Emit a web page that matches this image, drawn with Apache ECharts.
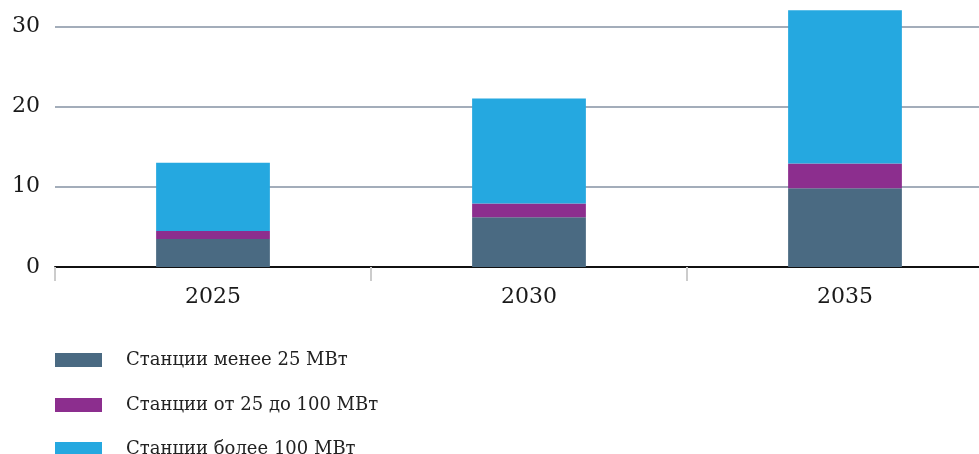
<!DOCTYPE html>
<html>
<head>
<meta charset="utf-8">
<script src="https://cdn.jsdelivr.net/npm/echarts@6/dist/echarts.min.js"></script>
<style>
  html, body { margin: 0; padding: 0; background: #ffffff; overflow: hidden; width: 979px; height: 454px; }
  #chart { position: absolute; left: 0; top: -54px; width: 1010px; height: 508px; }
</style>
</head>
<body>
<div id="chart"></div>
<script>
// Installed capacity by station size, stacked per year
const years = ['2025', '2030', '2035'];
const seriesNames = ['Станции менее 25 МВт', 'Станции от 25 до 100 МВт', 'Станции более 100 МВт'];
const small = [3.5, 6.2, 9.8];
const medium = [1.0, 1.7, 3.1];
const large = [8.5, 13.1, 19.1];
const colors = ['#4a6a82', '#8c2e8e', '#25a8e0'];

const serif = '"DejaVu Serif", "Liberation Serif", serif';

// The canvas is offset upward so the plot's upper part runs off the page
const offsetY = 54;

const chart = echarts.init(document.getElementById('chart'), null, { renderer: 'canvas' });

const makeSeries = (name, data, color) => ({
  name: name,
  type: 'bar',
  stack: 'total',
  data: data,
  barWidth: '36%',
  itemStyle: { color: color },
  emphasis: { disabled: true }
});

// One legend per entry, stacked as rows under the plot
const legendTops = [351, 396, 440];
const legends = seriesNames.map((name, i) => ({
  orient: 'vertical',
  left: 55,
  top: legendTops[i] + offsetY,
  padding: 0,
  itemWidth: 47,
  itemHeight: 14,
  icon: 'rect',
  selectedMode: false,
  textStyle: {
    fontFamily: serif,
    fontSize: 18,
    color: '#222222',
    padding: [0, 0, 0, 19]
  },
  data: [name]
}));

chart.setOption({
  animation: false,
  grid: { left: 55, right: 7, top: 0, bottom: 187, containLabel: false, outerBoundsMode: 'none' },
  legend: legends,
  xAxis: {
    type: 'category',
    data: years,
    axisLine: { show: true, lineStyle: { color: '#111111', width: 2 } },
    axisTick: { show: true, length: 14, lineStyle: { color: '#cccccc', width: 2 } },
    axisLabel: { fontFamily: serif, fontSize: 22, color: '#1a1a1a', margin: 19 }
  },
  yAxis: {
    type: 'value',
    min: 0,
    max: 40,
    interval: 10,
    axisLine: { show: false },
    axisTick: { show: false },
    axisLabel: { fontFamily: serif, fontSize: 22, color: '#1a1a1a', margin: 15 },
    splitLine: { lineStyle: { color: '#a3adba', width: 2 } }
  },
  series: [
    makeSeries(seriesNames[0], small, colors[0]),
    makeSeries(seriesNames[1], medium, colors[1]),
    makeSeries(seriesNames[2], large, colors[2])
  ]
});
</script>
</body>
</html>
